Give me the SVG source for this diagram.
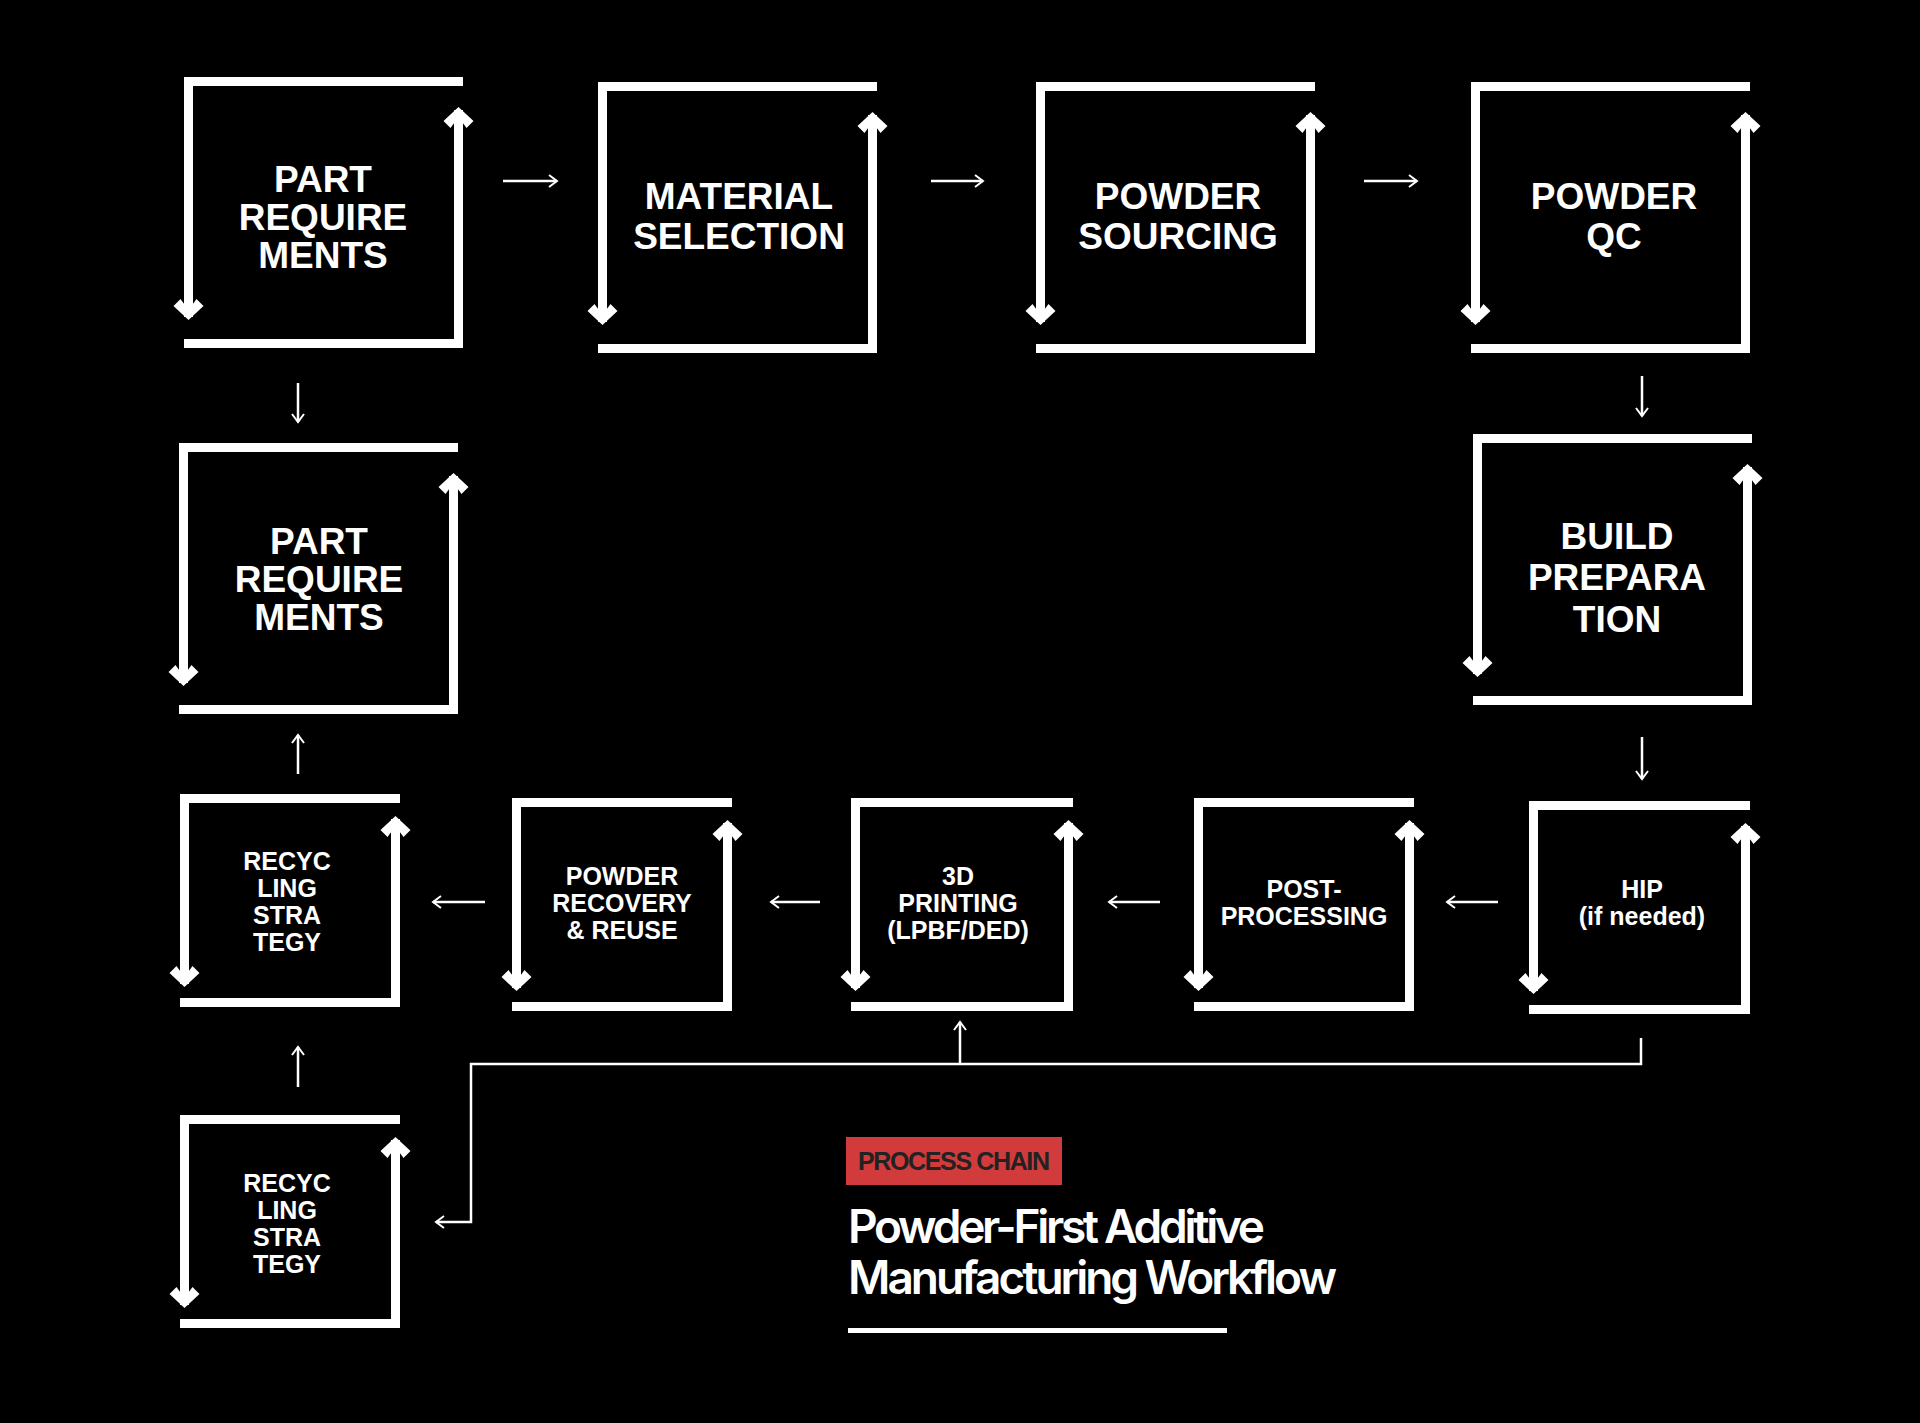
<svg xmlns="http://www.w3.org/2000/svg" width="1920" height="1423" viewBox="0 0 1920 1423">
<style>
.f{fill:none;stroke:#fff;stroke-width:9}
.c{fill:none;stroke:#fff;stroke-width:2.5}
.t{fill:#fff;font-family:"Liberation Sans",Arial,sans-serif;font-weight:bold;text-anchor:middle}
.b{font-size:37px}
.s{font-size:25px}
</style>
<defs>
<marker id="ah" markerUnits="userSpaceOnUse" viewBox="-20 -16 24 32" refX="0" refY="0" markerWidth="24" markerHeight="32" orient="auto">
<polygon points="3,0 -11,-15 -18,-8 -7,0 -18,8 -11,15" fill="#fff"/>
</marker>
<marker id="sa" markerUnits="userSpaceOnUse" viewBox="-10 -8 12 16" refX="0" refY="0" markerWidth="12" markerHeight="16" orient="auto">
<path d="M-8,-6 L0,0 L-8,6" fill="none" stroke="#fff" stroke-width="2"/>
</marker>
</defs>
<rect width="1920" height="1423" fill="#000"/>

<g id="n1"><path class="f" d="M463,81.5 H188.5 V317" marker-end="url(#ah)"/><path class="f" d="M184,343.5 H458.5 V110" marker-end="url(#ah)"/>
<text class="t b" x="323" y="192">PART</text><text class="t b" x="323" y="230">REQUIRE</text><text class="t b" x="323" y="268">MENTS</text></g>
<g id="n2"><path class="f" d="M877,86.5 H602.5 V322" marker-end="url(#ah)"/><path class="f" d="M598,348.5 H872.5 V115" marker-end="url(#ah)"/>
<text class="t b" x="739" y="209">MATERIAL</text><text class="t b" x="739" y="249">SELECTION</text></g>
<g id="n3"><path class="f" d="M1315,86.5 H1040.5 V322" marker-end="url(#ah)"/><path class="f" d="M1036,348.5 H1310.5 V115" marker-end="url(#ah)"/>
<text class="t b" x="1178" y="209">POWDER</text><text class="t b" x="1178" y="249">SOURCING</text></g>
<g id="n4"><path class="f" d="M1750,86.5 H1475.5 V322" marker-end="url(#ah)"/><path class="f" d="M1471,348.5 H1745.5 V115" marker-end="url(#ah)"/>
<text class="t b" x="1614" y="209">POWDER</text><text class="t b" x="1614" y="249">QC</text></g>
<g id="n5"><path class="f" d="M458,447.5 H183.5 V683" marker-end="url(#ah)"/><path class="f" d="M179,709.5 H453.5 V476" marker-end="url(#ah)"/>
<text class="t b" x="319" y="554">PART</text><text class="t b" x="319" y="592">REQUIRE</text><text class="t b" x="319" y="630">MENTS</text></g>
<g id="n6"><path class="f" d="M1752,438.5 H1477.5 V674" marker-end="url(#ah)"/><path class="f" d="M1473,700.5 H1747.5 V467" marker-end="url(#ah)"/>
<text class="t b" x="1617" y="549">BUILD</text><text class="t b" x="1617" y="590">PREPARA</text><text class="t b" x="1617" y="632">TION</text></g>

<g id="n7"><path class="f" d="M400,798.5 H184.5 V984" marker-end="url(#ah)"/><path class="f" d="M180,1002.5 H395.5 V819" marker-end="url(#ah)"/>
<text class="t s" x="287" y="870">RECYC</text><text class="t s" x="287" y="897">LING</text><text class="t s" x="287" y="924">STRA</text><text class="t s" x="287" y="951">TEGY</text></g>
<g id="n8"><path class="f" d="M732,802.5 H516.5 V988" marker-end="url(#ah)"/><path class="f" d="M512,1006.5 H727.5 V823" marker-end="url(#ah)"/>
<text class="t s" x="622" y="885">POWDER</text><text class="t s" x="622" y="912">RECOVERY</text><text class="t s" x="622" y="939">&amp; REUSE</text></g>
<g id="n9"><path class="f" d="M1073,802.5 H855.5 V988" marker-end="url(#ah)"/><path class="f" d="M851,1006.5 H1068.5 V823" marker-end="url(#ah)"/>
<text class="t s" x="958" y="885">3D</text><text class="t s" x="958" y="912">PRINTING</text><text class="t s" x="958" y="939">(LPBF/DED)</text></g>
<g id="n10"><path class="f" d="M1414,802.5 H1198.5 V988" marker-end="url(#ah)"/><path class="f" d="M1194,1006.5 H1409.5 V823" marker-end="url(#ah)"/>
<text class="t s" x="1304" y="898">POST-</text><text class="t s" x="1304" y="925">PROCESSING</text></g>
<g id="n11"><path class="f" d="M1750,805.5 H1533.5 V991" marker-end="url(#ah)"/><path class="f" d="M1529,1009.5 H1745.5 V826" marker-end="url(#ah)"/>
<text class="t s" x="1642" y="898">HIP</text><text class="t s" x="1642" y="925">(if needed)</text></g>
<g id="n12"><path class="f" d="M400,1119.5 H184.5 V1305" marker-end="url(#ah)"/><path class="f" d="M180,1323.5 H395.5 V1140" marker-end="url(#ah)"/>
<text class="t s" x="287" y="1192">RECYC</text><text class="t s" x="287" y="1219">LING</text><text class="t s" x="287" y="1246">STRA</text><text class="t s" x="287" y="1273">TEGY</text></g>

<g id="connectors">
<path class="c" d="M503,181 H557" marker-end="url(#sa)"/>
<path class="c" d="M931,181 H983" marker-end="url(#sa)"/>
<path class="c" d="M1364,181 H1417" marker-end="url(#sa)"/>
<path class="c" d="M298,383 V422" marker-end="url(#sa)"/>
<path class="c" d="M1642,376 V416" marker-end="url(#sa)"/>
<path class="c" d="M1642,737 V779" marker-end="url(#sa)"/>
<path class="c" d="M1498,902 H1447" marker-end="url(#sa)"/>
<path class="c" d="M1160,902 H1109" marker-end="url(#sa)"/>
<path class="c" d="M820,902 H771" marker-end="url(#sa)"/>
<path class="c" d="M485,902 H433" marker-end="url(#sa)"/>
<path class="c" d="M298,774 V735" marker-end="url(#sa)"/>
<path class="c" d="M298,1087 V1047" marker-end="url(#sa)"/>
<path class="c" d="M1641,1038 V1064 H471 V1222 H436" marker-end="url(#sa)"/>
<path class="c" d="M960,1064 V1022" marker-end="url(#sa)"/>
</g>

<g id="title">
<rect x="846" y="1137" width="216" height="48" fill="#d13b3b"/>
<text x="954" y="1170" font-family="Liberation Sans,Arial,sans-serif" font-weight="bold" font-size="25" fill="#222" text-anchor="middle" textLength="192">PROCESS CHAIN</text>
<text x="848" y="1243" font-family="Inter,sans-serif" font-weight="600" font-size="46" fill="#fff" textLength="417">Powder-First Additive</text>
<text x="848" y="1294" font-family="Inter,sans-serif" font-weight="600" font-size="46" fill="#fff" textLength="489">Manufacturing Workflow</text>
<rect x="848" y="1328" width="379" height="5" fill="#fff"/>
</g>
</svg>
